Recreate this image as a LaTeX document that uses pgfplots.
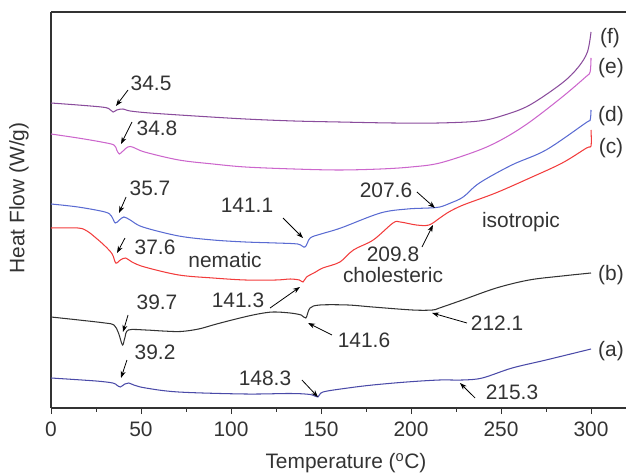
\documentclass[border=0pt]{standalone}
\usepackage{fontspec}
\setmainfont{Liberation Sans}
\usepackage{pgfplots}
\pgfplotsset{compat=1.18}
\usetikzlibrary{arrows.meta}
\definecolor{cf}{HTML}{8A4C9C}
\definecolor{ce}{HTML}{CC66CC}
\definecolor{cd}{HTML}{5A6BD2}
\definecolor{cc}{HTML}{F23C3C}
\definecolor{cb}{HTML}{333333}
\definecolor{ca}{HTML}{4A4AA8}
\definecolor{txt}{HTML}{333333}
\begin{document}
\begin{tikzpicture}[font=\fontsize{21}{25}\selectfont]
\begin{axis}[
  scale only axis, width=575bp, height=396bp,
  xmin=0, xmax=319.44, ymin=0, ymax=396,
  axis x line*=bottom, axis y line*=left,
  axis line style={-, line width=1.2pt, color=black!80},
  xtick={0,50,...,300}, minor xtick={25,75,...,275},
  ytick=\empty,
  tick align=outside, major tick length=6bp, minor tick length=3.5bp,
  tick style={line width=1pt, color=black!80},
  /pgf/number format/assume math mode=true,
  tick label style={font=\fontsize{21}{25}\selectfont, text=txt},
  xticklabel style={yshift=-4bp},
  xlabel={Temperature (\textsuperscript{o}C)},
  ylabel={Heat Flow (W/g)},
  xlabel style={at={(axis description cs:0.513,-0.139)}, anchor=center, text=txt},
  ylabel style={at={(axis description cs:-0.0557,0.530)}, anchor=center, text=txt},
  clip=false,
  every axis plot/.append style={line width=1.05pt, smooth, tension=0.55},
]
% (f)
\addplot[cf] coordinates {(0,305) (15,303) (28,301) (32,299.5) (34.5,296) (36.5,298) (40,299) (44,297) (55,295) (80,292) (108,289) (135,287) (160,286) (190,285) (215,285) (238,287) (252,293) (266,303) (284,325) (293,341) (298,356) (300,376)};
% (e)
\addplot[ce] coordinates {(0,274) (15,270) (28,266) (35,263) (36.5,258) (38,254) (40,257) (44,261.5) (52,256) (71,248) (90,244) (108,241) (135,239) (160,238) (183,239) (200,241) (216,245) (238,258) (252,270) (266,286) (284,311) (297,331) (299.5,336) (300,350)};
% (d)
\addplot[cd] coordinates {(0,204) (15,201) (30,196) (33.5,192) (35.7,185) (38,188) (40.5,191) (44,188) (51,181) (71,172) (90,168) (108,166) (125,165) (137,164) (141.1,161) (144,170) (150,174) (161,180) (183,195) (198,199) (210,200) (216,201) (222,205) (229,211) (238,225) (256,243) (275,258) (297,285) (299.5,288) (300,298)};
% (c)
\addplot[cc] coordinates {(0,180) (15,180) (20,177) (25,170) (30,162) (34,154) (36,145) (38.5,148) (41.5,150) (45,146) (52,141) (71,133) (90,130) (108,128) (125,128) (133,129) (138,128) (140,126) (142,131) (147,136) (151,140) (160.5,146) (168,158) (179,168) (190,185) (194,186) (203,183) (210,183) (216,190) (221,196) (229,203) (247,215) (266,230) (284,245) (297.5,260) (300,262) (300,278)};
% (b)
\addplot[cb] coordinates {(0,91) (15.5,88) (30,85) (35,83) (37.5,75) (39.7,63) (41,70) (43,78) (52.6,78) (62,77) (72,76.5) (82,79) (92,84) (105,90) (115,94) (123.4,96) (132.8,95) (139,93) (141.6,90) (143.9,100) (149.4,103) (165,103) (178.7,101) (200.9,98) (212,98) (215.8,100) (228.6,108) (247.4,120) (265.6,128) (283.9,132) (300,135)};
% (a)
\addplot[ca] coordinates {(0,30) (25,27) (34.3,25) (36.5,23) (38.5,21) (41,24) (43.2,25) (46,23) (52.6,20) (70.8,16) (108,14) (133,14.5) (144,13.5) (148.3,11) (151.1,16) (165,20) (178.7,23) (197.6,26) (215.8,28) (228.6,28) (239.6,30) (256.2,40) (275,48) (300,59)};

\draw[line width=1.2pt, color=black!80] (rel axis cs:0,1) -- (rel axis cs:1,1);

\begin{scope}[every node/.style={text=txt, inner sep=0pt}]
\node at (axis cs:55.6,325) {34.5};
\node at (axis cs:58.9,280) {34.8};
\node at (axis cs:55,220) {35.7};
\node at (axis cs:108.9,203) {141.1};
\node at (axis cs:186.1,218) {207.6};
\node at (axis cs:57.8,161) {37.6};
\node at (axis cs:96.7,148) {nematic};
\node at (axis cs:103.9,108) {141.3};
\node at (axis cs:58.9,106) {39.7};
\node at (axis cs:57.8,56) {39.2};
\node at (axis cs:118.9,30) {148.3};
\node at (axis cs:190,154) {209.8};
\node at (axis cs:190,133) {cholesteric};
\node at (axis cs:261.1,186) {isotropic};
\node at (axis cs:173.9,68) {141.6};
\node at (axis cs:247.8,85) {212.1};
\node at (axis cs:256.1,16) {215.3};
\node at (axis cs:310.5,370) {(f)};
\node at (axis cs:311.1,340) {(e)};
\node at (axis cs:311.1,292) {(d)};
\node at (axis cs:311.1,260) {(c)};
\node at (axis cs:311.1,133) {(b)};
\node at (axis cs:311.1,57) {(a)};
\end{scope}

\begin{scope}[line width=0.8pt, -{Stealth[length=7bp,width=5bp]}, black]
\draw (axis cs:42.8,318) -- (axis cs:36.1,302);
\draw (axis cs:45,286) -- (axis cs:38.9,264);
\draw (axis cs:41.7,211) -- (axis cs:37.8,195);
\draw (axis cs:128.9,190) -- (axis cs:140,170);
\draw (axis cs:203.3,216) -- (axis cs:213.3,200);
\draw (axis cs:41.1,170) -- (axis cs:36.7,155);
\draw (axis cs:121.7,100) -- (axis cs:138.3,121);
\draw (axis cs:42.8,93) -- (axis cs:40,76);
\draw (axis cs:42.2,48) -- (axis cs:38.9,30);
\draw (axis cs:139.4,28) -- (axis cs:148.3,11);
\draw (axis cs:206.1,161) -- (axis cs:212.2,183);
\draw (axis cs:156.1,73) -- (axis cs:142.8,85);
\draw (axis cs:231.1,85) -- (axis cs:211.7,95);
\draw (axis cs:235.6,10) -- (axis cs:227.2,25);
\end{scope}
\end{axis}
\pgfresetboundingbox
\path (-51bp,-66bp) rectangle (575bp,408bp);
\end{tikzpicture}
\end{document}
